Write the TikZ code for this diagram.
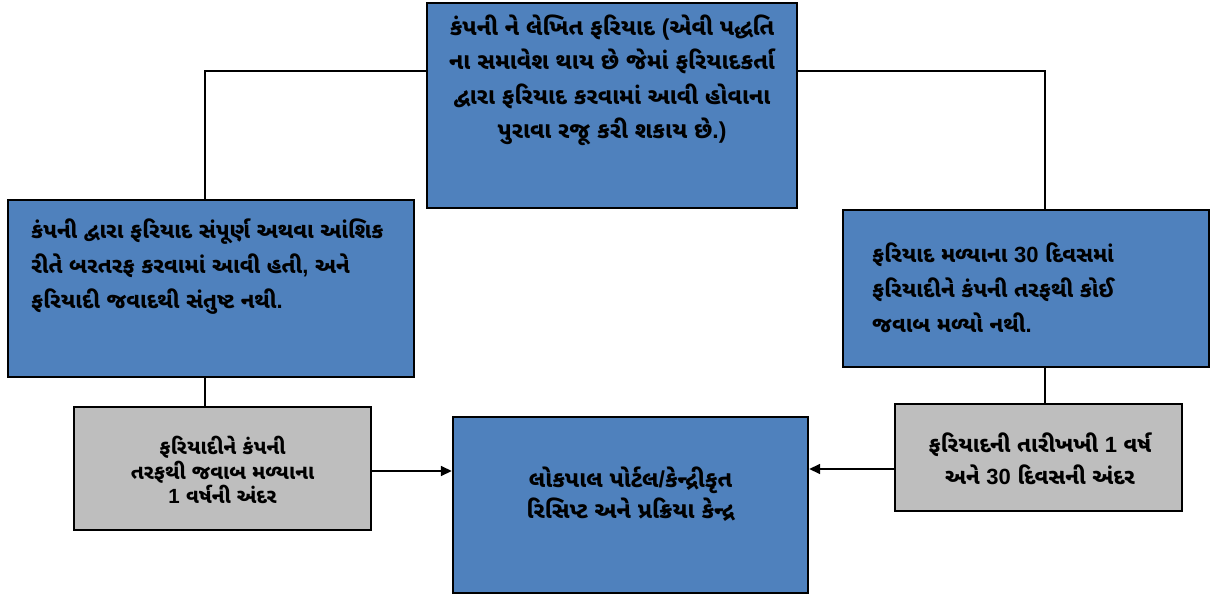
\documentclass[tikz,border=0pt]{standalone}
\usepackage{fontspec}
\newfontfamily\guj[Script=Gujarati]{Noto Sans Gujarati UI}
\newfontfamily\lat{Liberation Sans}
\usetikzlibrary{arrows.meta}
\definecolor{boxblue}{HTML}{4F81BD}
\definecolor{boxgray}{HTML}{BEBEBE}
\begin{document}
\begin{tikzpicture}[x=1pt,y=-1pt,
  bluebox/.style={draw=black,line width=2.4pt,fill=boxblue,rectangle,inner sep=0pt},
  graybox/.style={draw=black,line width=2.2pt,fill=boxgray,rectangle,inner sep=0pt},
  toptxt/.style={font=\guj\bfseries\fontsize{23}{34.5}\selectfont,inner sep=0pt,align=center},
  bigtxt/.style={font=\guj\bfseries\fontsize{22}{35}\selectfont,inner sep=0pt,align=left,anchor=west},
  smalltxt/.style={font=\guj\bfseries\fontsize{20.5}{24.5}\selectfont,inner sep=0pt,align=center},
  midtxt/.style={font=\guj\bfseries\fontsize{23}{31}\selectfont,inner sep=0pt,align=center},
  rtxt/.style={font=\guj\bfseries\fontsize{22}{32}\selectfont,inner sep=0pt,align=center},
  conn/.style={line width=1.6pt},
  arr/.style={conn,-{Triangle[length=11pt,width=10pt]}}]
\useasboundingbox (0,0) rectangle (1210,596);
% boxes
\node[bluebox,minimum width=370pt,minimum height=205pt] (top) at (612,105.5) {};
\node[bluebox,minimum width=406pt,minimum height=177pt] (lblue) at (211,288.5) {};
\node[bluebox,minimum width=366pt,minimum height=157pt] (rblue) at (1026,288.5) {};
\node[graybox,minimum width=297pt,minimum height=123pt] (lgray) at (222.5,468.5) {};
\node[bluebox,minimum width=355pt,minimum height=176pt] (center) at (630.5,505) {};
\node[graybox,minimum width=287pt,minimum height=107pt] (rgray) at (1038.5,457.5) {};
% texts
\node[toptxt] (toptxtnode) at (612,80) {કંપની ને લેખિત ફરિયાદ {\lat(}એવી પદ્ધતિ\\ના સમાવેશ થાય છે જેમાં ફરિયાદકર્તા\\દ્વારા ફરિયાદ કરવામાં આવી હોવાના\\પુરાવા રજૂ કરી શકાય છે{\lat.)}};
\node[bigtxt] (lbluetxt) at (31,267) {કંપની દ્વારા ફરિયાદ સંપૂર્ણ અથવા આંશિક\\રીતે બરતરફ કરવામાં આવી હતી{\lat,} અને\\ફરિયાદી જવાદથી સંતુષ્ટ નથી{\lat.}};
\node[bigtxt] (rbluetxt) at (872,288) {ફરિયાદ મળ્યાના {\lat 30} દિવસમાં\\ફરિયાદીને કંપની તરફથી કોઈ\\જવાબ મળ્યો નથી{\lat.}};
\node[smalltxt] (lgraytxt) at (222.5,470) {ફરિયાદીને કંપની\\તરફથી જવાબ મળ્યાના\\{\lat 1} વર્ષની અંદર};
\node[midtxt] (centertxt) at (630.5,494) {લોકપાલ પોર્ટલ{\lat/}કેન્દ્રીકૃત\\રિસિપ્ટ અને પ્રક્રિયા કેન્દ્ર};
\node[rtxt] (rgraytxt) at (1040,459) {ફરિયાદની તારીખખી {\lat 1} વર્ષ\\અને {\lat 30} દિવસની અંદર};
% connectors
\coordinate (tl) at (205,71);
\coordinate (tr) at (1045,71);
\draw[conn] (top.west |- tl) -- (tl) -- (tl |- lblue.north);
\draw[conn] (top.east |- tr) -- (tr) -- (tr |- rblue.north);
\draw[conn] (tl |- lblue.south) -- (tl |- lgray.north);
\draw[conn] (tr |- rblue.south) -- (tr |- rgray.north);
\draw[arr] (lgray.east |- 0,471) -- (center.west |- 0,471);
\draw[arr] (rgray.west |- 0,469) -- (center.east |- 0,469);
\end{tikzpicture}
\end{document}
